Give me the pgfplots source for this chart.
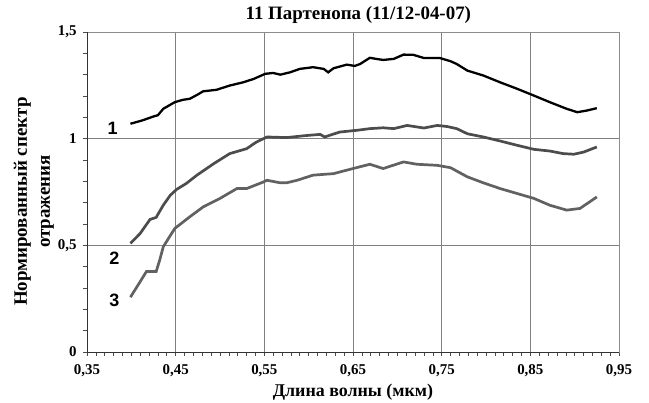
\documentclass[border=0pt]{standalone}
\usepackage{pgfplots}
\pgfplotsset{compat=1.18}
\usepackage{fontspec}
\setmainfont{Liberation Serif}
\newfontfamily\numfont{Liberation Sans}

\begin{document}
\begin{tikzpicture}
\path[use as bounding box] (-87bp,-51bp) rectangle (562bp,352bp);
\begin{axis}[
    at={(0,0)}, anchor=south west,
    scale only axis,
    width=532bp, height=320bp,
    xmin=0.35, xmax=0.95, ymin=0, ymax=1.5,
    xtick={0.35,0.45,0.55,0.65,0.75,0.85,0.95},
    ytick={0,0.5,1,1.5},
    minor x tick num=9,
    minor y tick num=4,
    xtick pos=lower, ytick pos=left,
    tick align=outside,
    major tick length=4bp, minor tick length=4bp,
    every tick/.style={black!70, line width=0.6bp},
    xmajorgrids, ymajorgrids,
    major grid style={black!50, line width=0.7bp},
    axis line style={black!45, line width=0.7bp},
    /pgf/number format/.cd, use comma, fixed, precision=2, assume math mode=true,
    /pgfplots/.cd,
    ticklabel style={font=\fontsize{15}{17}\selectfont\bfseries},
    xticklabel style={yshift=-5bp},
    yticklabel style={xshift=-3bp},
    title={11 Партенопа (11/12-04-07)},
    title style={font=\fontsize{19}{21}\selectfont\bfseries, at={(axis description cs:0.51,1.019)}, anchor=base, inner sep=0pt},
    xlabel={Длина волны (мкм)},
    xlabel style={font=\fontsize{18}{20}\selectfont\bfseries, at={(axis description cs:0.5,-0.125)}, anchor=center},
    ylabel={Нормированный спектр\\отражения},
    ylabel style={font=\fontsize{19}{23}\selectfont\bfseries, align=center, at={(axis description cs:-0.1,0.47)}, anchor=center},
]
% 1
\addplot[black, line width=2.3bp] coordinates {
(0.399,1.070)(0.412,1.085)(0.425,1.104)(0.430,1.110)(0.436,1.140)(0.449,1.171)(0.458,1.182)(0.466,1.187)
(0.474,1.205)(0.481,1.222)(0.496,1.229)(0.511,1.249)(0.526,1.264)(0.538,1.280)(0.551,1.304)(0.560,1.308)
(0.568,1.300)(0.579,1.311)(0.590,1.327)(0.605,1.335)(0.617,1.327)(0.622,1.311)(0.628,1.330)(0.643,1.347)
(0.652,1.341)(0.658,1.350)(0.669,1.379)(0.676,1.374)(0.684,1.369)(0.696,1.374)(0.707,1.394)(0.718,1.393)
(0.730,1.378)(0.748,1.378)(0.760,1.363)(0.767,1.350)(0.779,1.319)(0.797,1.296)(0.816,1.264)(0.835,1.234)
(0.854,1.202)(0.872,1.171)(0.891,1.140)(0.903,1.124)(0.914,1.132)(0.925,1.143)
};
% 2
\addplot[black!70, line width=2.7bp] coordinates {
(0.399,0.509)(0.410,0.556)(0.421,0.621)(0.428,0.631)(0.436,0.688)(0.444,0.735)(0.451,0.762)(0.462,0.790)
(0.474,0.829)(0.493,0.883)(0.511,0.930)(0.530,0.953)(0.541,0.984)(0.553,1.008)(0.575,1.005)(0.598,1.015)
(0.613,1.020)(0.618,1.008)(0.635,1.031)(0.654,1.039)(0.669,1.047)(0.684,1.051)(0.696,1.047)(0.711,1.062)
(0.730,1.050)(0.745,1.062)(0.756,1.057)(0.767,1.047)(0.779,1.023)(0.797,1.008)(0.816,0.989)(0.835,0.969)
(0.854,0.950)(0.872,0.942)(0.887,0.930)(0.899,0.927)(0.910,0.937)(0.925,0.961)
};
% 3
\addplot[black!62, line width=2.7bp] coordinates {
(0.399,0.257)(0.410,0.330)(0.417,0.377)(0.428,0.377)(0.432,0.431)(0.436,0.493)(0.442,0.533)(0.449,0.579)
(0.466,0.634)(0.481,0.680)(0.500,0.720)(0.519,0.766)(0.530,0.766)(0.549,0.797)(0.553,0.805)(0.568,0.793)
(0.575,0.793)(0.587,0.805)(0.605,0.829)(0.628,0.836)(0.650,0.860)(0.669,0.880)(0.684,0.860)(0.707,0.891)
(0.722,0.880)(0.745,0.875)(0.760,0.864)(0.779,0.821)(0.797,0.793)(0.816,0.766)(0.835,0.743)(0.854,0.720)
(0.872,0.688)(0.891,0.665)(0.906,0.673)(0.917,0.704)(0.925,0.727)
};
\draw[black!80, line width=0.8bp] (rel axis cs:0,1) -- (rel axis cs:0,0) -- (rel axis cs:1,0);
\node[font=\numfont\fontsize{18}{19}\selectfont\bfseries] at (axis cs:0.379,1.047) {1};
\node[font=\numfont\fontsize{18}{19}\selectfont\bfseries] at (axis cs:0.381,0.438) {2};
\node[font=\numfont\fontsize{18}{19}\selectfont\bfseries] at (axis cs:0.381,0.242) {3};
\end{axis}
\end{tikzpicture}
\end{document}
